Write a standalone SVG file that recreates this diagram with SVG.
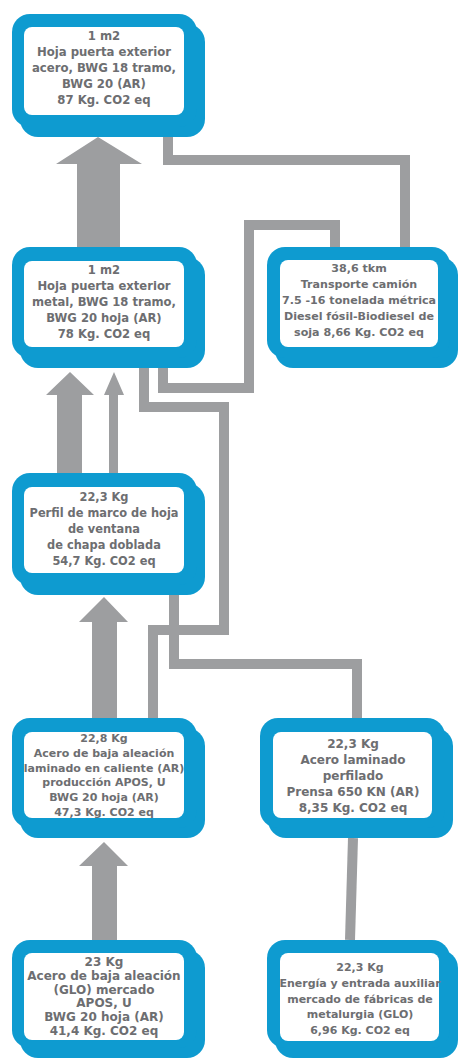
<svg xmlns="http://www.w3.org/2000/svg" width="460" height="1060" viewBox="0 0 460 1060">
<style>
.nb{fill:#0e9bd0}
.nw{fill:#ffffff}
.t{font-family:"DejaVu Sans","Liberation Sans",Arial,sans-serif;font-weight:bold;font-size:11.6px;fill:#6d6e71;text-anchor:middle}
.ln{fill:none;stroke:#9d9ea0;stroke-width:10;stroke-linejoin:miter}
.ar{fill:#9d9ea0}
</style>
<rect width="460" height="1060" fill="#ffffff"/>
<g id="connectors">
<path class="ln" d="M168 128 V160 H405 V247"/>
<path class="ln" d="M163 358 V388 H249 V225 H335 V247"/>
<path class="ln" d="M144 358 V407 H224 V630 H153 V718"/>
<path class="ln" d="M174 585 V664 H357 V718"/>
<path class="ln" d="M353 838 L350 940"/>
<polygon class="ar" points="98,137 142,164 120,164 120,247 77,247 77,164 56,164"/>
<polygon class="ar" points="70,372 94,395 82,395 82,473 57,473 57,395 46,395"/>
<polygon class="ar" points="114,372 124,395 118,395 118,473 109,473 109,395 104,395"/>
<polygon class="ar" points="104,597 128,622 117,622 117,718 92,718 92,622 79,622"/>
<polygon class="ar" points="104,842 128,866 117,866 117,940 92,940 92,866 79,866"/>
</g>
<g id="n1" style="font-size:11.7px">
<rect class="nb" x="20" y="24" width="185" height="113" rx="18"/>
<rect class="nb" x="12" y="14" width="185" height="113" rx="18"/>
<rect class="nw" x="24" y="27" width="160" height="88" rx="8"/>
<text class="t" x="104" y="40" style="font-size:11.7px">1 m2</text>
<text class="t" x="104" y="56" style="font-size:11.7px">Hoja puerta exterior</text>
<text class="t" x="104" y="72" style="font-size:11.7px">acero, BWG 18 tramo,</text>
<text class="t" x="104" y="88" style="font-size:11.7px">BWG 20 (AR)</text>
<text class="t" x="104" y="104" style="font-size:11.7px">87 Kg. CO2 eq</text>
</g>
<g id="n2">
<rect class="nb" x="20" y="257" width="185" height="111" rx="18"/>
<rect class="nb" x="12" y="247" width="185" height="111" rx="18"/>
<rect class="nw" x="24" y="261" width="160" height="86" rx="8"/>
<text class="t" x="104" y="274">1 m2</text>
<text class="t" x="104" y="290">Hoja puerta exterior</text>
<text class="t" x="104" y="306">metal, BWG 18 tramo,</text>
<text class="t" x="104" y="322">BWG 20 hoja (AR)</text>
<text class="t" x="104" y="338">78 Kg. CO2 eq</text>
</g>
<g id="n3">
<rect class="nb" x="20" y="483" width="185" height="112" rx="18"/>
<rect class="nb" x="12" y="473" width="185" height="112" rx="18"/>
<rect class="nw" x="24" y="487" width="160" height="86" rx="8"/>
<text class="t" x="104" y="501" style="font-size:11.4px">22,3 Kg</text>
<text class="t" x="104" y="517" style="font-size:11.4px">Perfil de marco de hoja</text>
<text class="t" x="104" y="533" style="font-size:11.4px">de ventana</text>
<text class="t" x="104" y="549" style="font-size:11.4px">de chapa doblada</text>
<text class="t" x="104" y="565" style="font-size:11.4px">54,7 Kg. CO2 eq</text>
</g>
<g id="n4">
<rect class="nb" x="20" y="728" width="185" height="110" rx="18"/>
<rect class="nb" x="12" y="718" width="185" height="110" rx="18"/>
<rect class="nw" x="24" y="732" width="160" height="86" rx="8"/>
<text class="t" x="104" y="742" style="font-size:11px">22,8 Kg</text>
<text class="t" x="104" y="757" style="font-size:11px">Acero de baja aleación</text>
<text class="t" x="104" y="771.5" style="font-size:11px">laminado en caliente (AR)</text>
<text class="t" x="104" y="786" style="font-size:11px">producción APOS, U</text>
<text class="t" x="104" y="801" style="font-size:11px">BWG 20 hoja (AR)</text>
<text class="t" x="104" y="816" style="font-size:11px">47,3 Kg. CO2 eq</text>
</g>
<g id="n5">
<rect class="nb" x="20" y="950" width="185" height="108" rx="18"/>
<rect class="nb" x="12" y="940" width="185" height="108" rx="18"/>
<rect class="nw" x="24" y="953" width="160" height="87" rx="8"/>
<text class="t" x="104" y="966" style="font-size:12px">23 Kg</text>
<text class="t" x="104" y="980" style="font-size:12px">Acero de baja aleación</text>
<text class="t" x="104" y="993.5" style="font-size:12px">(GLO) mercado</text>
<text class="t" x="104" y="1007" style="font-size:12px">APOS, U</text>
<text class="t" x="104" y="1021" style="font-size:12px">BWG 20 hoja (AR)</text>
<text class="t" x="104" y="1034.5" style="font-size:12px">41,4 Kg. CO2 eq</text>
</g>
<g id="n6">
<rect class="nb" x="275" y="257" width="183" height="111" rx="18"/>
<rect class="nb" x="267" y="247" width="183" height="111" rx="18"/>
<rect class="nw" x="280" y="260" width="158" height="87" rx="8"/>
<text class="t" x="359" y="272" style="font-size:11.1px">38,6 tkm</text>
<text class="t" x="359" y="288" style="font-size:11.1px">Transporte camión</text>
<text class="t" x="359" y="304" style="font-size:11.1px">7.5 -16 tonelada métrica</text>
<text class="t" x="359" y="320" style="font-size:11.1px">Diesel fósil-Biodiesel de</text>
<text class="t" x="359" y="336" style="font-size:11.1px">soja 8,66 Kg. CO2 eq</text>
</g>
<g id="n7">
<rect class="nb" x="268" y="728" width="185" height="110" rx="18"/>
<rect class="nb" x="260" y="718" width="185" height="110" rx="18"/>
<rect class="nw" x="273" y="732" width="159" height="86" rx="8"/>
<text class="t" x="353" y="748" style="font-size:12px">22,3 Kg</text>
<text class="t" x="353" y="764" style="font-size:12px">Acero laminado</text>
<text class="t" x="353" y="780" style="font-size:12px">perfilado</text>
<text class="t" x="353" y="796" style="font-size:12px">Prensa 650 KN (AR)</text>
<text class="t" x="353" y="812" style="font-size:12px">8,35 Kg. CO2 eq</text>
</g>
<g id="n8">
<rect class="nb" x="275" y="950" width="183" height="108" rx="18"/>
<rect class="nb" x="267" y="940" width="183" height="108" rx="18"/>
<rect class="nw" x="280" y="953" width="159" height="88" rx="8"/>
<text class="t" x="360" y="971" style="font-size:11px">22,3 Kg</text>
<text class="t" x="360" y="987" style="font-size:11px">Energía y entrada auxiliar</text>
<text class="t" x="360" y="1003" style="font-size:11px">mercado de fábricas de</text>
<text class="t" x="360" y="1018" style="font-size:11px">metalurgia (GLO)</text>
<text class="t" x="360" y="1034" style="font-size:11px">6,96 Kg. CO2 eq</text>
</g>
</svg>
